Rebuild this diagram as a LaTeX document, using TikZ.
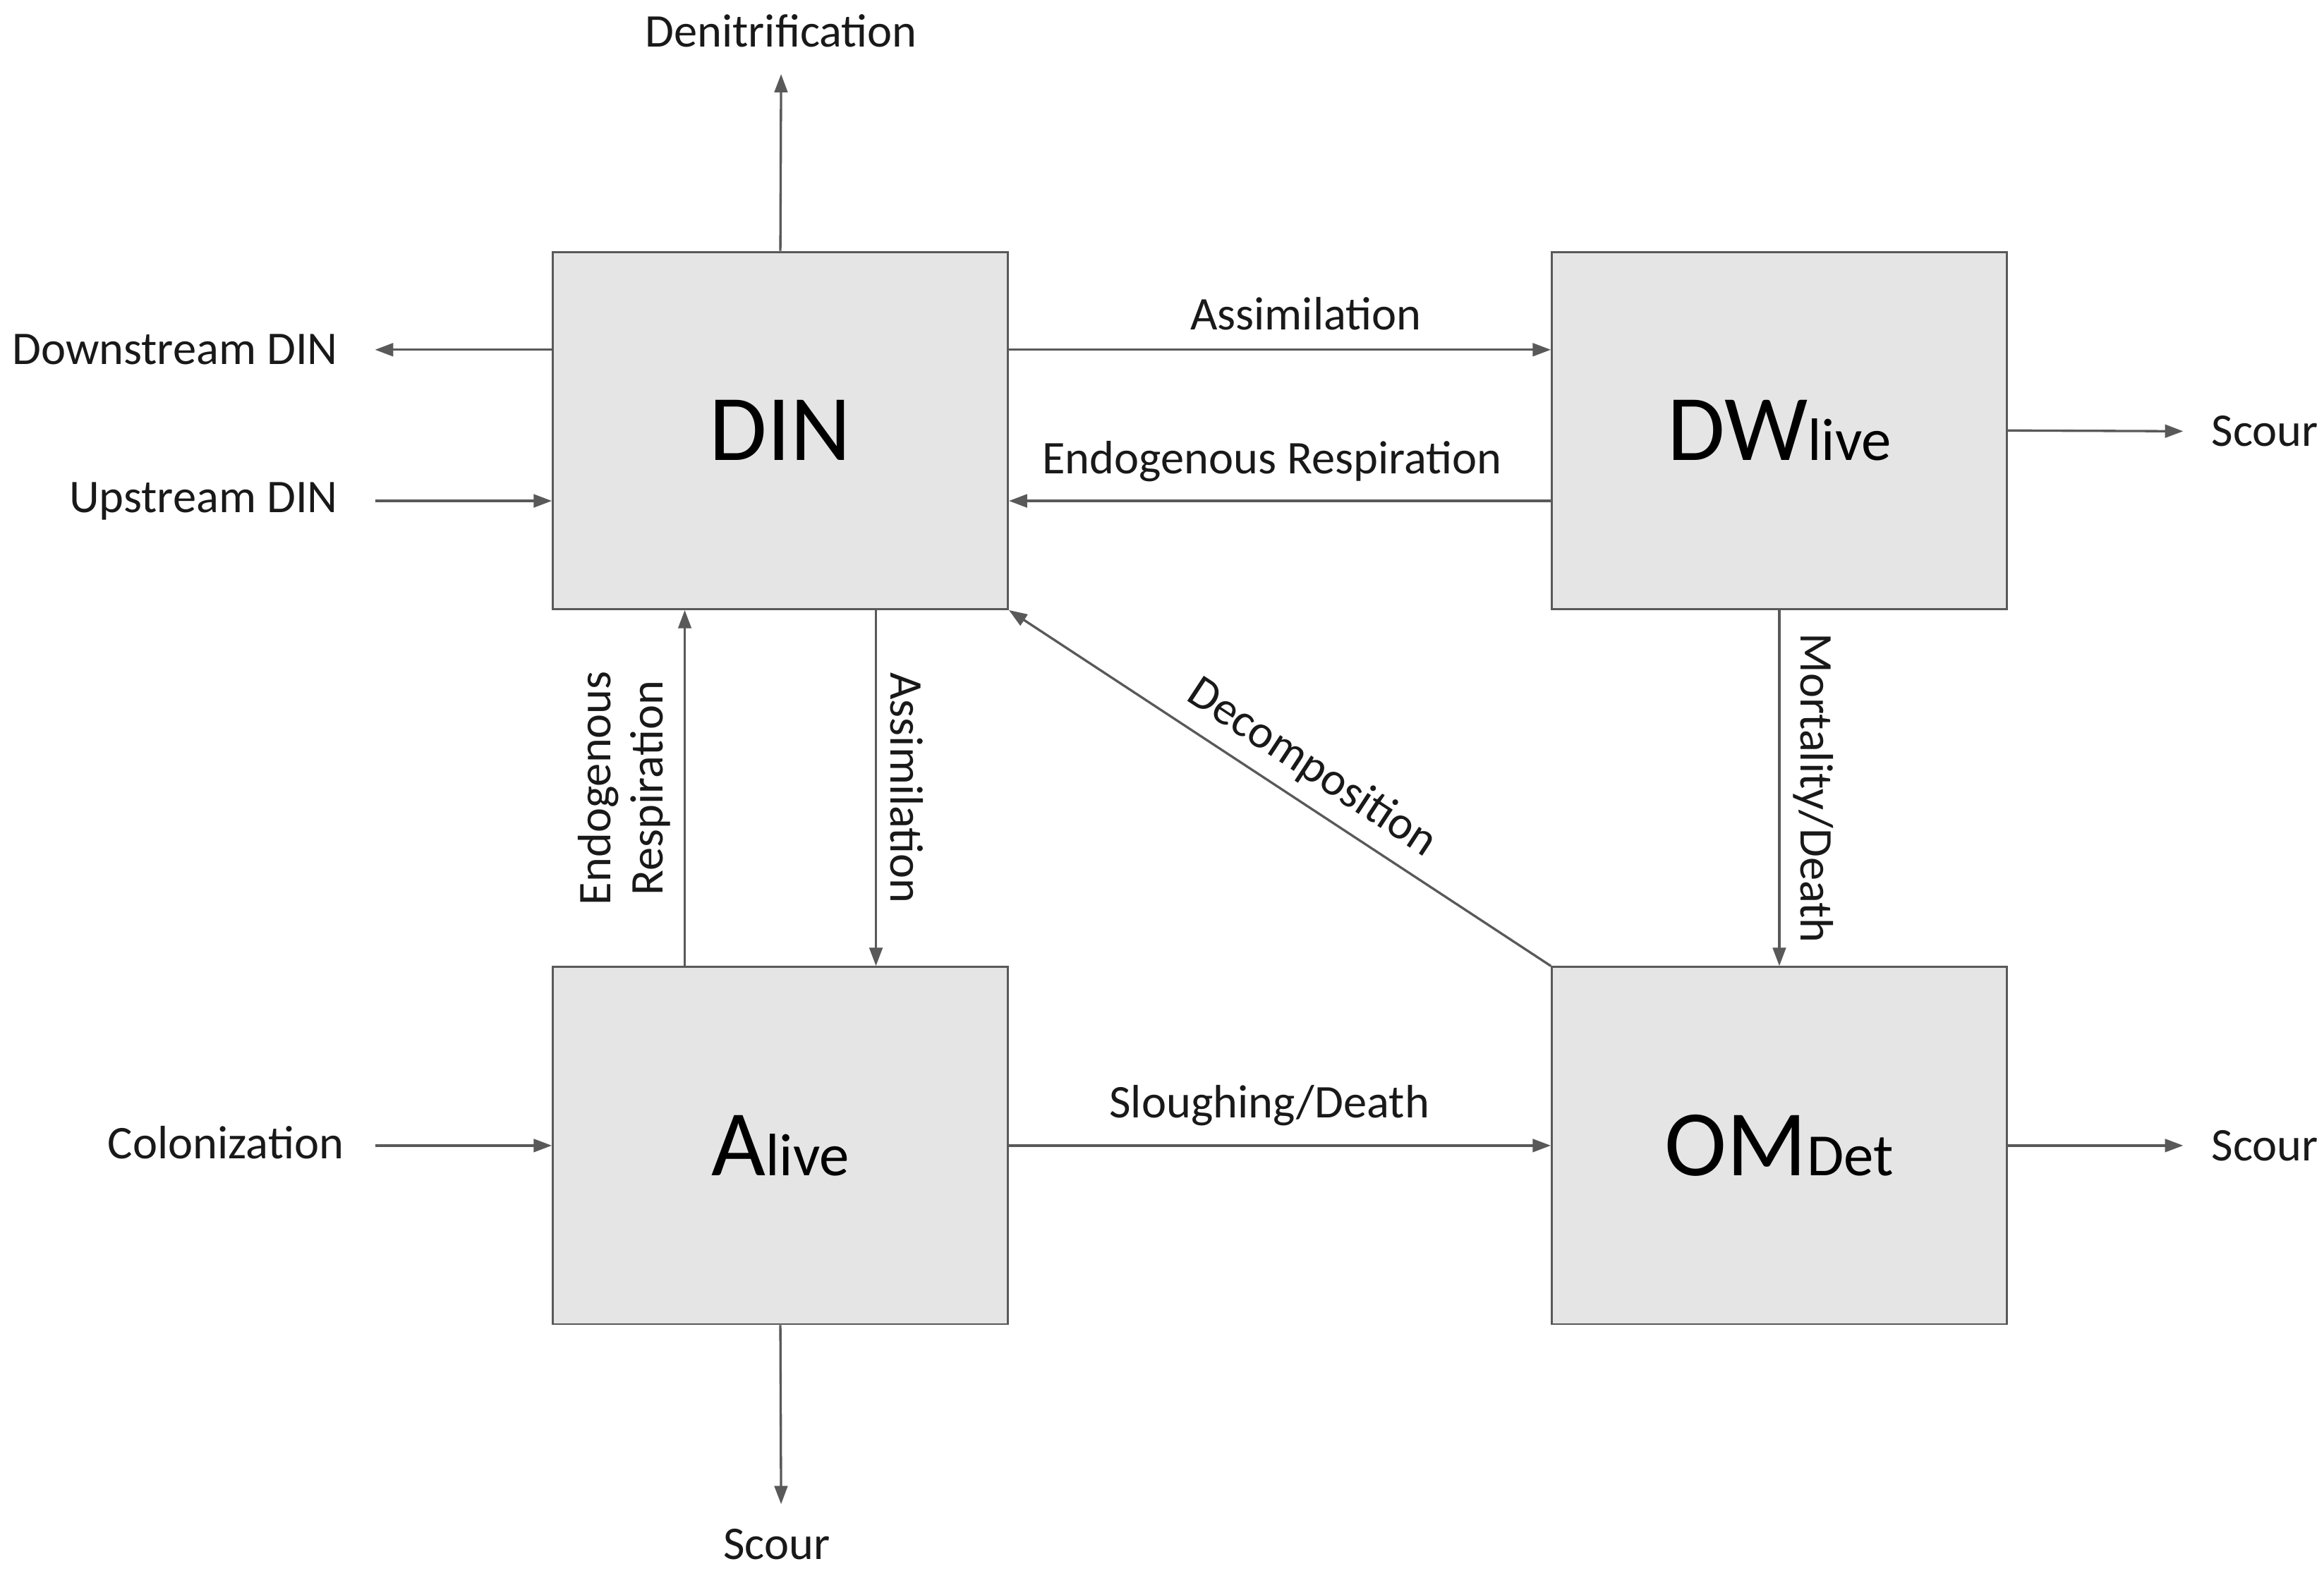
\documentclass[tikz,border=0pt]{standalone}
\usepackage{fontspec}
\setmainfont{Carlito}
\usetikzlibrary{arrows.meta}
\begin{document}
\begin{tikzpicture}[x=0.02cm,y=-0.02cm,
 box/.style={draw=black!65,fill=black!10,line width=0.8pt,minimum width=6.14cm,minimum height=4.82cm,inner sep=0pt,font=\fontsize{36}{42}\selectfont},
 sub/.style={},
 arr/.style={draw=black!65,line width=0.9pt,-{Triangle[length=7pt,width=5pt]}},
 lab/.style={font=\fontsize{18}{20}\selectfont,text=black!90,inner sep=1pt}]
\useasboundingbox (0,0) rectangle (1568,1060);
\node[box] (DIN) at (526.5,290.5) {DIN};
\node[box] (DW) at (1200.5,290.5) {DW\fontsize{23}{23}\selectfont live};
\node[box] (AL) at (526.5,773) {A\fontsize{23}{23}\selectfont live};
\node[box] (OM) at (1200.5,773) {OM\fontsize{23}{23}\selectfont Det};
% free ends
\coordinate (denE) at (527,50);
\coordinate (downE) at (253,236);
\coordinate (upS) at (253,338);
\coordinate (scour1E) at (1473,291);
\coordinate (colS) at (253,773);
\coordinate (scour2E) at (1473,773);
\coordinate (scour3E) at (527,1015);
\node[lab] (tden) at (527,21) {Denitrification};
\node[lab,anchor=east] (tdown) at (230,236) {Downstream DIN};
\node[lab,anchor=east] (tup) at (230,338) {Upstream DIN};
\node[lab,anchor=west] (ts1) at (1490,291) {Scour};
\node[lab,anchor=west] (ts2) at (1490,773) {Scour};
\node[lab,anchor=east] (tcol) at (234,771) {Colonization};
\node[lab] (ts3) at (524,1042) {Scour};
% connectors
\draw[arr] (DIN.north) -- (denE);
\draw[arr] (DIN.west |- downE) -- (downE);
\draw[arr] (upS) -- (DIN.west |- upS);
\draw[arr] (DIN.east |- 0,236) -- node[lab,above=6pt,xshift=10pt]{Assimilation} (DW.west |- 0,236);
\draw[arr] (DW.west |- 0,338) -- node[lab,above=6pt,xshift=-3pt]{Endogenous Respiration} (DIN.east |- 0,338);
\draw[arr] (DW.east) -- (scour1E);
\draw[arr] (DW.south) -- node[lab,rotate=-90,anchor=south,yshift=4pt]{Mortality/Death} (OM.north);
\draw[arr] (OM.north west) -- node[lab,sloped,above=4pt,pos=0.5,xshift=6pt]{Decomposition} (DIN.south east);
\draw[arr] (AL.north -| 462,0) -- node[lab,rotate=90,anchor=south,align=center,yshift=4pt]{Endogenous\\Respiration} (DIN.south -| 462,0);
\draw[arr] (DIN.south -| 591,0) -- node[lab,rotate=-90,anchor=south,yshift=4pt]{Assimilation} (AL.north -| 591,0);
\draw[arr] (colS) -- (AL.west);
\draw[arr] (AL.east) -- node[lab,above=6pt,xshift=-4pt]{Sloughing/Death} (OM.west);
\draw[arr] (OM.east) -- (scour2E);
\draw[arr] (AL.south) -- (scour3E);
\end{tikzpicture}
\end{document}
